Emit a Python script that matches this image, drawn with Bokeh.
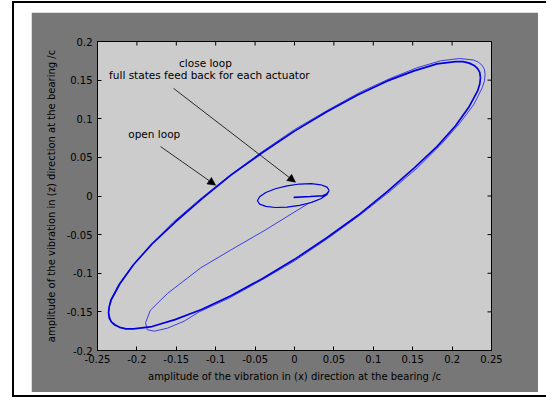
import math
from bokeh.plotting import figure
from bokeh.models import Range1d, FixedTicker, Arrow, NormalHead, Column
from bokeh.embed import file_html
from bokeh.resources import INLINE
from bokeh.core.properties import value

# ---- tick values and labels ----
x_ticks = [-0.25, -0.2, -0.15, -0.1, -0.05, 0, 0.05, 0.1, 0.15, 0.2, 0.25]
x_tick_labels = ["-0.25", "-0.2", "-0.15", "-0.1", "-0.05", "0", "0.05", "0.1", "0.15", "0.2", "0.25"]
y_ticks = [-0.2, -0.15, -0.1, -0.05, 0, 0.05, 0.1, 0.15, 0.2]
y_tick_labels = ["-0.2", "-0.15", "-0.1", "-0.05", "0", "0.05", "0.1", "0.15", "0.2"]
x_limits = [-0.25, 0.25]
y_limits = [-0.2, 0.2]

x_label = "amplitude of the vibration in (x) direction at the bearing /c"
y_label = "amplitude of the vibration in (z) direction at the bearing /c"

# ---- open loop: steady-state orbit ----
steady_x = [0.236, 0.2351, 0.2324, 0.228, 0.2218, 0.2139, 0.2044, 0.1808, 0.1517, 0.118, 0.0807,
            0.041, 0.0, -0.041, -0.0807, -0.118, -0.1517, -0.1808, -0.2044, -0.2218, -0.2324,
            -0.2351, -0.236, -0.2351, -0.2324, -0.228, -0.2218, -0.2139, -0.2044, -0.1808,
            -0.1517, -0.118, -0.0807, -0.041, 0.0, 0.041, 0.0807, 0.118, 0.1517, 0.1808, 0.2044,
            0.2218, 0.2324, 0.2351, 0.236]
steady_y = [0.153, 0.160, 0.165, 0.169, 0.172, 0.174, 0.174, 0.171, 0.162, 0.149, 0.131,
            0.109, 0.084, 0.056, 0.027, -0.004, -0.034, -0.062, -0.089, -0.114, -0.134,
            -0.143, -0.151, -0.158, -0.163, -0.167, -0.170, -0.172, -0.172, -0.169,
            -0.160, -0.147, -0.129, -0.107, -0.082, -0.054, -0.025, 0.006, 0.036, 0.064, 0.091,
            0.116, 0.136, 0.145, 0.153]

# ---- open loop: transient from the start point onto the orbit ----
trans_x = [0.030, 0.018, -0.010, -0.037, -0.081, -0.119, -0.161, -0.183, -0.189, -0.187,
           -0.178, -0.161, -0.140, -0.121, -0.0827, -0.042, 0.0, 0.042, 0.0827, 0.121,
           0.1555, 0.1853, 0.2095, 0.2273, 0.2382, 0.241, 0.2419, 0.241, 0.2382, 0.2337,
           0.2273, 0.2095, 0.1853, 0.1555, 0.121, 0.0827, 0.042, 0.0, -0.0416, -0.0819,
           -0.1198, -0.154, -0.1817, -0.2054, -0.2229, -0.2336, -0.236, -0.2324, -0.2218]
trans_y = [-0.005, -0.0095, -0.027, -0.044, -0.070, -0.093, -0.126, -0.148, -0.164, -0.173,
           -0.175, -0.171, -0.162, -0.150, -0.132, -0.109, -0.084, -0.055, -0.025, 0.006,
           0.036, 0.066, 0.094, 0.118, 0.140, 0.149, 0.157, 0.164, 0.169, 0.173,
           0.176, 0.178, 0.175, 0.166, 0.152, 0.134, 0.111, 0.086, 0.057, 0.027,
           -0.004, -0.034, -0.063, -0.090, -0.114, -0.135, -0.151, -0.163, -0.170]

# ---- close loop: full state feedback ----
close_x = [0.044, 0.0413, 0.0334, 0.0213, 0.0064, -0.0094, -0.0243, -0.0364, -0.0443, -0.047,
           -0.0443, -0.0364, -0.0243, -0.0094, 0.0064, 0.0213, 0.0334, 0.0413, 0.044,
           0.041, 0.036, 0.020, 0.0, -0.001, 0.020, 0.037]
close_y = [0.0071, 0.0115, 0.0145, 0.0159, 0.0155, 0.0132, 0.0094, 0.0045, -0.0009, -0.0061,
           -0.0105, -0.0135, -0.0149, -0.0145, -0.0122, -0.0084, -0.0035, 0.0019, 0.0071,
           0.003, 0.0005, -0.0005, -0.0015, -0.002, -0.001, 0.0]

# ---- annotations ----
note_text = ["close loop", "full states feed back for each actuator", "open loop"]
note_x = [-0.113, -0.108, -0.178]
note_y = [0.172, 0.156, 0.080]
arrow_x0 = [-0.1536, -0.170]
arrow_y0 = [0.1394, 0.064]
arrow_x1 = [0.0013, -0.100]
arrow_y1 = [0.0177, 0.0139]

FONT = "DejaVu Sans"

p = figure(frame_width=394, frame_height=309,
           x_range=Range1d(*x_limits), y_range=Range1d(*y_limits),
           output_backend="svg", toolbar_location=None,
           min_border_left=66, min_border_right=47, min_border_top=29, min_border_bottom=42,
           border_fill_color="#777777", background_fill_color="#cccccc",
           outline_line_color="black", outline_line_width=1)
p.margin = (9, 8, 3, 17)
p.grid.visible = False

def style_axis(ax, ticks, labels):
    ax.ticker = FixedTicker(ticks=ticks)
    ax.major_label_overrides = {t: l for t, l in zip(ticks, labels)}
    ax.major_tick_in = 4
    ax.major_tick_out = 0
    ax.minor_tick_line_color = None
    ax.axis_line_color = "black"
    ax.major_tick_line_color = "black"
    ax.major_label_text_font = FONT
    ax.major_label_text_color = "black"
    ax.major_label_text_font_size = "10px"
    ax.axis_label_text_font = FONT
    ax.axis_label_text_font_size = "10px"
    ax.axis_label_text_font_style = "normal"
    ax.axis_label_text_color = "black"

style_axis(p.xaxis[0], x_ticks, x_tick_labels)
style_axis(p.yaxis[0], y_ticks, y_tick_labels)
p.xaxis[0].major_label_standoff = 4
p.yaxis[0].major_label_standoff = 5
p.xaxis[0].axis_label = x_label
p.yaxis[0].axis_label = y_label
p.xaxis[0].axis_label_standoff = 5
p.yaxis[0].axis_label_standoff = 7

# mirrored inward ticks on the top and right edges of the box
p.ray(x=x_ticks, y=[y_limits[1]] * len(x_ticks), length=4, length_units="screen",
      angle=-math.pi / 2, line_color="black", line_width=1)
p.ray(x=[x_limits[1]] * len(y_ticks), y=y_ticks, length=4, length_units="screen",
      angle=math.pi, line_color="black", line_width=1)

# curves
p.line(trans_x, trans_y, line_color="#3c3ce6", line_width=1.0)
p.line(steady_x, steady_y, line_color="#0000e0", line_width=1.7)
p.line(close_x, close_y, line_color="#0000dc", line_width=1.2)

# texts and arrows
p.text(x=note_x, y=note_y, text=note_text, text_font=value(FONT), text_font_size="10.5px",
       text_align="center", text_baseline="middle", text_color="black")
for xs, ys, xe, ye in zip(arrow_x0, arrow_y0, arrow_x1, arrow_y1):
    p.add_layout(Arrow(end=NormalHead(size=8, fill_color="black", line_color="black", line_width=0.5),
                       x_start=xs, y_start=ys, x_end=xe, y_end=ye,
                       line_color="black", line_width=0.8))

layout = Column(children=[p], margin=(1, 0, 0, 12),
                styles={"border-top": "2px solid black", "border-left": "2px solid black",
                        "border-bottom": "2px solid black", "background-color": "white"})

open("out.html", "w").write(file_html(layout, INLINE))
